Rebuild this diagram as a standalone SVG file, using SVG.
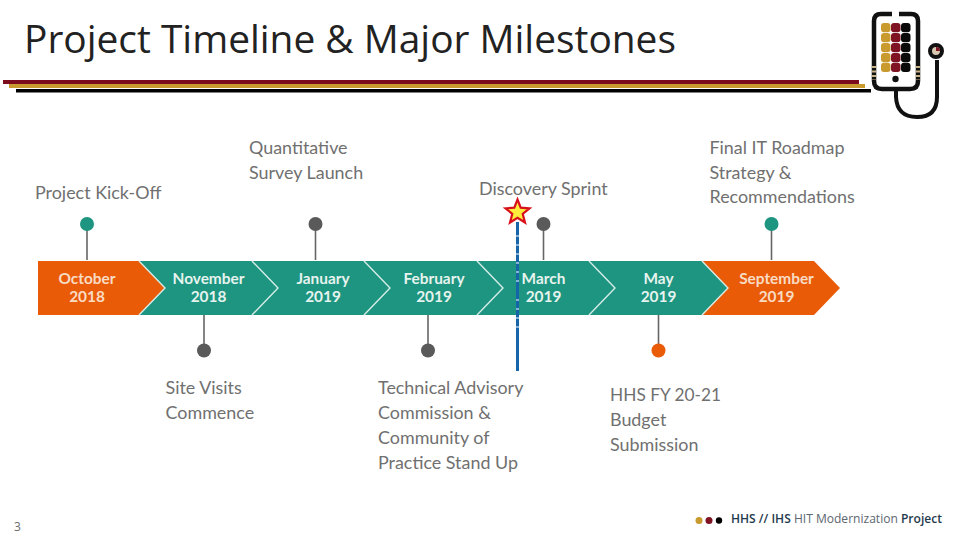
<svg xmlns="http://www.w3.org/2000/svg" width="960" height="540" viewBox="0 0 960 540">
<style>
.t{font-family:"Lato","Liberation Sans",sans-serif;font-size:17.900px;fill:#707070}
.m{font-family:"Lato","Liberation Sans",sans-serif;font-size:15.400px;font-weight:700;fill:#e6f3ee;text-anchor:middle}
.o{fill:#f8dcc4}
.teal{fill:#1d9580}
.or{fill:#ea5b08}
.sep{fill:none;stroke:#d5ece6;stroke-width:1.400}
.ln{stroke:#666;stroke-width:1.600;fill:none}
.ft{font-family:"Open Sans","DejaVu Sans",sans-serif;font-size:12px;font-weight:600}
</style>
<rect width="960" height="540" fill="#fff"/>
<text x="24" y="53" font-family="'Open Sans','Liberation Sans',sans-serif" font-size="38" fill="#222" textLength="652" lengthAdjust="spacingAndGlyphs">Project Timeline &amp; Major Milestones</text>
<g id="rule">
<rect x="3" y="80" width="856" height="4" fill="#7a0c1e"/>
<rect x="9" y="84" width="856" height="4" fill="#c99a2e"/>
<rect x="16" y="89" width="855" height="3.500" fill="#000"/>
</g>
<g id="logo">
<path d="M892 14H881Q874 14 874 21V81Q874 89 882 89H910Q918 89 918 81V21Q918 14 911 14H899" fill="none" stroke="#111" stroke-width="4.500"/>
<path d="M874 66v14M918 66v14" stroke="#c9b48a" stroke-width="4.500" stroke-dasharray="2 2.500" fill="none"/>
<g fill="#c99a2e"><rect x="881" y="23" width="9.500" height="9.200" rx="3"/><rect x="881" y="33" width="9.500" height="9.200" rx="3"/><rect x="881" y="43" width="9.500" height="9.200" rx="3"/><rect x="881" y="53" width="9.500" height="9.200" rx="3"/><rect x="881" y="62.800" width="9.500" height="9.200" rx="3"/></g>
<g fill="#7f1324"><rect x="891" y="23" width="9.500" height="9.200" rx="3"/><rect x="891" y="33" width="9.500" height="9.200" rx="3"/><rect x="891" y="43" width="9.500" height="9.200" rx="3"/><rect x="891" y="53" width="9.500" height="9.200" rx="3"/><rect x="891" y="62.800" width="9.500" height="9.200" rx="3"/></g>
<g fill="#0a0a0a"><rect x="901" y="23" width="9.500" height="9.200" rx="3"/><rect x="901" y="33" width="9.500" height="9.200" rx="3"/><rect x="901" y="43" width="9.500" height="9.200" rx="3"/><rect x="901" y="53" width="9.500" height="9.200" rx="3"/><rect x="901" y="62.800" width="9.500" height="9.200" rx="3"/></g>
<circle cx="895.500" cy="79" r="3.200" fill="#111"/>
<path d="M896 91V97Q897 117 917 117Q937 117 937 97V60" fill="none" stroke="#111" stroke-width="4"/>
<circle cx="936" cy="51" r="6" fill="#d8c8b0" stroke="#111" stroke-width="4"/>
<path d="M936 47a4 4 0 0 1 4 4l-4 0z" fill="#7f1324"/>
</g>
<g id="connectors">
<path class="ln" d="M87 230V260M315.500 230V260M543.500 230V260M771.500 230V260M204 315V346M428 315V346M658.500 315V346"/>
</g>
<g id="timeline">
<g id="m-oct"><path class="or" d="M38 261H139L165 288L139 315H38Z"/><text class="m o"><tspan x="87" y="284">October</tspan><tspan x="87" y="302">2018</tspan></text></g>
<g id="m-nov"><path class="teal" d="M139 261H252L278 288L252 315H139L165 288Z"/><text class="m"><tspan x="208.500" y="284">November</tspan><tspan x="208.500" y="302">2018</tspan></text></g>
<g id="m-jan"><path class="teal" d="M252 261H364L390 288L364 315H252L278 288Z"/><text class="m"><tspan x="323" y="284">January</tspan><tspan x="323" y="302">2019</tspan></text></g>
<g id="m-feb"><path class="teal" d="M364 261H477L503 288L477 315H364L390 288Z"/><text class="m"><tspan x="434" y="284">February</tspan><tspan x="434" y="302">2019</tspan></text></g>
<g id="m-mar"><path class="teal" d="M477 261H589L615 288L589 315H477L503 288Z"/><text class="m"><tspan x="543.500" y="284">March</tspan><tspan x="543.500" y="302">2019</tspan></text></g>
<g id="m-may"><path class="teal" d="M589 261H702L728 288L702 315H589L615 288Z"/><text class="m"><tspan x="658.500" y="284">May</tspan><tspan x="658.500" y="302">2019</tspan></text></g>
<g id="m-sep"><path class="or" d="M702 261H814L840 288L814 315H702L728 288Z"/><text class="m o"><tspan x="776.500" y="284">September</tspan><tspan x="776.500" y="302">2019</tspan></text></g>
<path class="sep" d="M139 261L165 288L139 315M252 261L278 288L252 315M364 261L390 288L364 315M477 261L503 288L477 315M589 261L615 288L589 315M702 261L728 288L702 315"/>
</g>
<g id="n1"><circle cx="87" cy="224" r="7" fill="#1d9580"/><text class="t" x="35" y="199">Project Kick-Off</text></g>
<g id="n2"><circle cx="315.500" cy="224" r="7" fill="#5a5a5a"/><text class="t"><tspan x="249" y="154">Quantitative</tspan><tspan x="249" y="179">Survey Launch</tspan></text></g>
<g id="n3"><circle cx="543.500" cy="224" r="7" fill="#5a5a5a"/><text class="t" x="479" y="195">Discovery Sprint</text></g>
<g id="n4"><circle cx="771.500" cy="224" r="7" fill="#1d9580"/><text class="t"><tspan x="709.500" y="154">Final IT Roadmap</tspan><tspan x="709.500" y="179">Strategy &amp;</tspan><tspan x="709.500" y="203">Recommendations</tspan></text></g>
<g id="n5"><circle cx="204" cy="350.500" r="7" fill="#5a5a5a"/><text class="t"><tspan x="165.500" y="394">Site Visits</tspan><tspan x="165.500" y="419">Commence</tspan></text></g>
<g id="n6"><circle cx="428" cy="350.500" r="7" fill="#5a5a5a"/><text class="t"><tspan x="378" y="394">Technical Advisory</tspan><tspan x="378" y="419">Commission &amp;</tspan><tspan x="378" y="444">Community of</tspan><tspan x="378" y="469">Practice Stand Up</tspan></text></g>
<g id="n7"><circle cx="658.500" cy="350.500" r="7" fill="#ea5b08"/><text class="t"><tspan x="610" y="401" textLength="111" lengthAdjust="spacingAndGlyphs">HHS FY 20-21</tspan><tspan x="610" y="426">Budget</tspan><tspan x="610" y="451">Submission</tspan></text></g>
<g id="today">
<path d="M517.500 222V371" stroke="#1565a8" stroke-width="3" fill="none"/>
<path d="M516 236H519M516 245H519M516 254H519M516 263H519M516 272H519M516 281H519M516 300H519M516 309H519M516 318H519M516 327H519" stroke="#fff" stroke-width="1" fill="none"/>
<path d="M517.500 199.500L520.700 207.700L529.500 208.300L522.700 213.800L525 222.500L517.500 217.700L510 222.500L512.300 213.800L505.500 208.300L514.300 207.700Z" fill="#ffeb3b" stroke="#d8101c" stroke-width="2.200"/>
</g>
<text x="14" y="531" font-family="'Open Sans','Liberation Sans',sans-serif" font-size="12" fill="#6b6b6b">3</text>
<g id="footer">
<circle cx="699" cy="520.500" r="3.500" fill="#c99a2e"/><circle cx="709" cy="520.500" r="3.500" fill="#7f1324"/><circle cx="719" cy="520.500" r="3.200" fill="#000"/>
<text class="ft" x="731" y="523" textLength="211" lengthAdjust="spacingAndGlyphs"><tspan fill="#1f3a4d">HHS // IHS </tspan><tspan fill="#5a6670" font-weight="400">HIT Modernization </tspan><tspan fill="#1f3a4d">Project</tspan></text>
</g>
</svg>
